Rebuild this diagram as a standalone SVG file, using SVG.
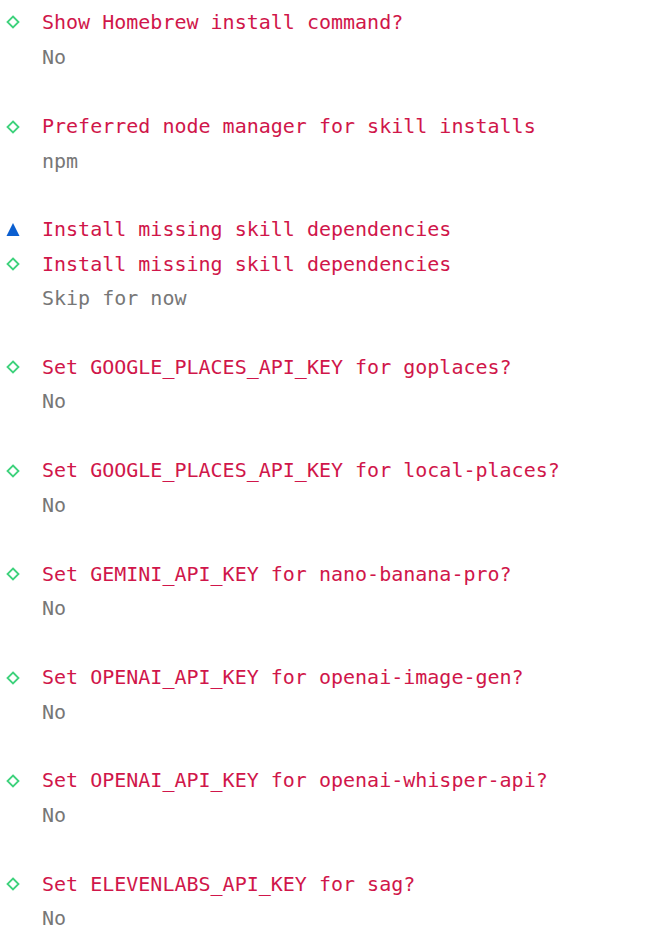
<svg xmlns="http://www.w3.org/2000/svg" width="646" height="941" viewBox="0 0 646 941">
<defs><style>
text{font-family:"DejaVu Sans Mono","Liberation Mono",monospace;font-size:20px}
.q{fill:#d0164a}.a{fill:#777}
.d{fill:none;stroke:#3ed27c;stroke-width:1.8}
.t{fill:#0b5fd0}
</style>
<path id="dm" class="d" d="M13,-5.5 L18.5,0 13,5.5 7.5,0Z"/></defs>
<rect width="646" height="941" fill="#fff"/>
<g id="n1"><use href="#dm" y="22"/><text class="q" x="42" y="29">Show Homebrew install command?</text><text class="a" x="42" y="64">No</text></g>
<g id="n2"><use href="#dm" y="127"/><text class="q" x="42" y="133">Preferred node manager for skill installs</text><text class="a" x="42" y="168">npm</text></g>
<g id="n3"><path class="t" d="M13,223 L19.5,236 6.5,236Z"/><text class="q" x="42" y="236">Install missing skill dependencies</text></g>
<g id="n4"><use href="#dm" y="264"/><text class="q" x="42" y="271">Install missing skill dependencies</text><text class="a" x="42" y="305">Skip for now</text></g>
<g id="n5"><use href="#dm" y="367"/><text class="q" x="42" y="374">Set GOOGLE_PLACES_API_KEY for goplaces?</text><text class="a" x="42" y="408">No</text></g>
<g id="n6"><use href="#dm" y="471"/><text class="q" x="42" y="477">Set GOOGLE_PLACES_API_KEY for local-places?</text><text class="a" x="42" y="512">No</text></g>
<g id="n7"><use href="#dm" y="574"/><text class="q" x="42" y="581">Set GEMINI_API_KEY for nano-banana-pro?</text><text class="a" x="42" y="615">No</text></g>
<g id="n8"><use href="#dm" y="678"/><text class="q" x="42" y="684">Set OPENAI_API_KEY for openai-image-gen?</text><text class="a" x="42" y="719">No</text></g>
<g id="n9"><use href="#dm" y="781"/><text class="q" x="42" y="787">Set OPENAI_API_KEY for openai-whisper-api?</text><text class="a" x="42" y="822">No</text></g>
<g id="n10"><use href="#dm" y="884"/><text class="q" x="42" y="891">Set ELEVENLABS_API_KEY for sag?</text><text class="a" x="42" y="925">No</text></g>
<g id="connectors"/>
</svg>
